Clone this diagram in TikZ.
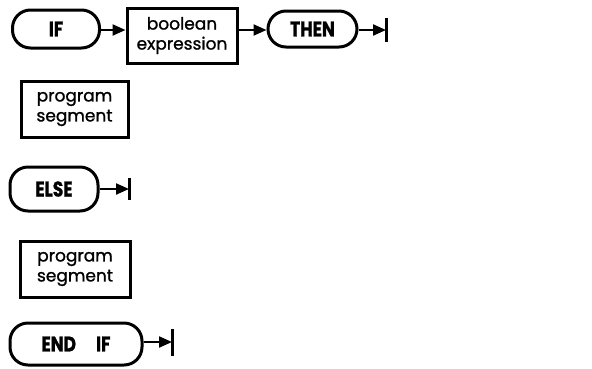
\documentclass[tikz,border=0pt]{standalone}
\usepackage{fontspec}
\setmainfont{Poppins}
\newfontfamily\segfont[FakeBold=1.2]{Poppins}
\newfontfamily\capfont[FakeStretch=0.9,FakeBold=1]{Poppins Bold}
\usetikzlibrary{arrows.meta}
\newcommand{\captext}[1]{\scalebox{1}[1.12]{\capfont #1}}
\begin{document}
\begin{tikzpicture}[x=1pt,y=-1pt,
  stad/.style={draw,line width=3pt,rounded corners=18pt,inner sep=0pt,
    font=\fontsize{19}{20}\selectfont},
  boxed/.style={draw,line width=3pt,inner sep=0pt,align=center,
    font=\fontsize{17}{20}\selectfont\segfont},
  conn/.style={line width=2.2pt,-{Triangle[length=13pt,width=11pt]}},
  barline/.style={line width=3pt}]
\useasboundingbox (0,0) rectangle (592,368);
% row 1
\node[stad,minimum width=87pt,minimum height=38pt] (if) at (56,29) {\captext{IF}};
\node[boxed,minimum width=110pt,minimum height=55pt] (bool) at (182,35.5) {boolean\\expression};
\node[stad,minimum width=89pt,minimum height=36pt] (then) at (312.5,29) {\captext{THEN}};
\coordinate (t1) at (386,30);
\draw[conn] (if.east |- 0,30) -- (bool.west |- 0,30);
\draw[conn] (bool.east |- 0,30) -- (then.west |- 0,30);
\draw[conn] (then.east |- t1) -- (t1);
\draw[barline] ([yshift=-12pt]t1) -- ([yshift=12pt]t1);
% segment 1
\node[boxed,minimum width=107pt,minimum height=56pt] (seg1) at (74.5,109) {program\\segment};
% else
\node[stad,minimum width=88pt,minimum height=44pt] (else) at (54,189) {\captext{ELSE}};
\coordinate (t2) at (129,189);
\draw[conn] (else.east) -- (t2);
\draw[barline] ([yshift=-11pt]t2) -- ([yshift=11pt]t2);
% segment 2
\node[boxed,minimum width=110pt,minimum height=56pt] (seg2) at (75,269) {program\\segment};
% end if
\node[stad,minimum width=132pt,minimum height=42pt] (endif) at (76,344) {\captext{END\hspace{20pt}IF}};
\coordinate (t3) at (172,342);
\draw[conn] (endif.east |- t3) -- (t3);
\draw[barline] ([yshift=-13.5pt]t3) -- ([yshift=13.5pt]t3);
\end{tikzpicture}
\end{document}
